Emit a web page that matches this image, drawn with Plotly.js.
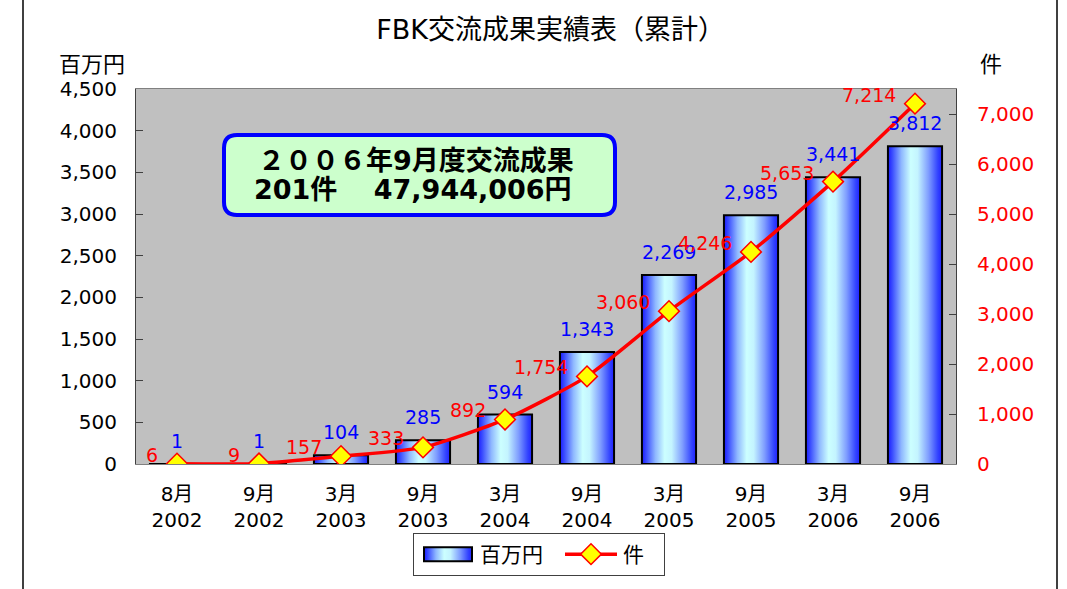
<!DOCTYPE html>
<html>
<head>
<meta charset="utf-8">
<script src="https://cdn.plot.ly/plotly-3.0.1.min.js"></script>
<style>body{margin:0;background:#fff;} #chart{width:1067px;height:589px;}</style>
</head>
<body>
<div id="chart"></div>
<script>
// ---- data ----
const categories = ['8月<br>2002','9月<br>2002','3月<br>2003','9月<br>2003','3月<br>2004','9月<br>2004','3月<br>2005','9月<br>2005','3月<br>2006','9月<br>2006'];
const amountMillionYen = [1, 1, 104, 285, 594, 1343, 2269, 2985, 3441, 3812];
const caseCount = [6, 9, 157, 333, 892, 1754, 3060, 4246, 5653, 7214];
const leftTicks = [0, 500, 1000, 1500, 2000, 2500, 3000, 3500, 4000, 4500];
const rightTicks = [0, 1000, 2000, 3000, 4000, 5000, 6000, 7000];
const chartTitle = 'FBK交流成果実績表（累計）';
const boxLine1 = '２００６年9月度交流成果';
const boxLine2 = '201件　 47,944,006円';

const FONT = '"DejaVu Sans", "Noto Sans CJK JP", sans-serif';
const fmt = v => v.toLocaleString('en-US');

// plot area in pixels (for paper conversions of decorations)
const L = 136, R = 956, T = 89, B = 464;
const px = x => (x - L) / (R - L);
const py = y => (B - y) / (B - T);

const bars = {
  type: 'bar', name: '百万円', x: categories, y: amountMillionYen,
  width: 0.66,
  marker: { color: '#6f8cff', line: { color: '#000000', width: 2 } },
  hoverinfo: 'skip'
};
const line = {
  type: 'scatter', mode: 'lines+markers', name: '件', x: categories, y: caseCount, yaxis: 'y2',
  line: { color: '#ff0000', width: 3.5, shape: 'spline', smoothing: 0.6 },
  marker: { symbol: 'diamond', size: 16, color: '#ffff00', line: { color: '#ff0000', width: 1.5 } },
  hoverinfo: 'skip'
};

const annotations = [];
categories.forEach((c, i) => {
  annotations.push({ x: c, y: amountMillionYen[i], xref: 'x', yref: 'y', text: fmt(amountMillionYen[i]),
    showarrow: false, xanchor: 'center', yanchor: 'bottom', yshift: 10, font: { family: FONT, size: 19, color: '#0000ff' } });
  annotations.push({ x: c, y: caseCount[i], xref: 'x', yref: 'y2', text: fmt(caseCount[i]),
    showarrow: false, xanchor: 'right', yanchor: 'middle', xshift: -17, yshift: 9, font: { family: FONT, size: 19, color: '#ff0000' } });
});
annotations.push({ xref: 'paper', yref: 'paper', x: px(92), y: py(65), xanchor: 'center', yanchor: 'middle', text: '百万円', showarrow: false,
  font: { family: FONT, size: 22, color: '#000' } });
annotations.push({ xref: 'paper', yref: 'paper', x: px(991), y: py(65), xanchor: 'center', yanchor: 'middle', text: '件', showarrow: false,
  font: { family: FONT, size: 22, color: '#000' } });
annotations.push({ xref: 'paper', yref: 'paper', x: px(256), y: py(160), xanchor: 'left', yanchor: 'middle', text: '<b>' + boxLine1 + '</b>', showarrow: false,
  font: { family: FONT, size: 27, color: '#000' } });
annotations.push({ xref: 'paper', yref: 'paper', x: px(252), y: py(189), xanchor: 'left', yanchor: 'middle', text: '<b>' + boxLine2 + '</b>', showarrow: false,
  font: { family: FONT, size: 27, color: '#000' } });

// rounded box path in paper coords
function roundRect(x0, y0, x1, y1, r) {
  const P = (x, y) => px(x) + ',' + py(y);
  return 'M' + P(x0 + r, y0) + ' L' + P(x1 - r, y0) + ' Q' + P(x1, y0) + ' ' + P(x1, y0 + r) +
    ' L' + P(x1, y1 - r) + ' Q' + P(x1, y1) + ' ' + P(x1 - r, y1) +
    ' L' + P(x0 + r, y1) + ' Q' + P(x0, y1) + ' ' + P(x0, y1 - r) +
    ' L' + P(x0, y0 + r) + ' Q' + P(x0, y0) + ' ' + P(x0 + r, y0) + ' Z';
}

const shapes = [
  { type: 'path', xref: 'paper', yref: 'paper', path: roundRect(224, 135, 615, 215, 13),
    fillcolor: '#ccffcc', line: { color: '#0000ff', width: 4 }, layer: 'above' },
  { type: 'line', xref: 'paper', yref: 'paper', x0: px(23), x1: px(23), y0: py(0), y1: py(589), line: { color: '#000', width: 1.5 } },
  { type: 'line', xref: 'paper', yref: 'paper', x0: px(1057), x1: px(1057), y0: py(0), y1: py(589), line: { color: '#000', width: 1.5 } }
];

const layout = {
  width: 1067, height: 589, autosize: false,
  margin: { l: L, r: 1067 - R, t: T, b: 589 - B, pad: 0, autoexpand: false },
  paper_bgcolor: '#ffffff', plot_bgcolor: '#c0c0c0',
  font: { family: FONT, color: '#000' },
  title: { text: chartTitle, x: 0.516, xanchor: 'center', y: 1 - 30 / 589, yanchor: 'middle', automargin: false,
    font: { family: FONT, size: 27, color: '#000' } },
  barmode: 'overlay',
  xaxis: { type: 'category', range: [-0.5, categories.length - 0.5], automargin: false, showgrid: false, showline: true,
    linecolor: '#808080', linewidth: 1, mirror: true,
    ticks: '', tickfont: { family: FONT, size: 20, color: '#000' }, ticklabelstandoff: 12, fixedrange: true },
  yaxis: { automargin: false, range: [0, 4500], tickvals: leftTicks, ticktext: leftTicks.map(fmt), showgrid: false, zeroline: false,
    showline: true, linecolor: '#404040', linewidth: 1, ticks: 'inside', ticklen: 7, tickcolor: '#404040',
    tickfont: { family: FONT, size: 20, color: '#000' }, ticklabelstandoff: 14, fixedrange: true },
  yaxis2: { automargin: false, overlaying: 'y', side: 'right', range: [0, 7507], tickvals: rightTicks, ticktext: rightTicks.map(fmt),
    showgrid: false, zeroline: false, showline: true, linecolor: '#404040', linewidth: 1, ticks: 'inside', ticklen: 7,
    tickcolor: '#404040', tickfont: { family: FONT, size: 20, color: '#ff0000' }, ticklabelstandoff: 16, fixedrange: true },
  showlegend: true,
  legend: { orientation: 'h', x: px(539), xanchor: 'center', y: py(533), yanchor: 'top',
    bgcolor: '#ffffff', bordercolor: '#404040', borderwidth: 1, font: { family: FONT, size: 21, color: '#000' },
    traceorder: 'normal', entrywidth: 80 },
  annotations: annotations,
  shapes: shapes
};

const gd = document.getElementById('chart');
Plotly.newPlot(gd, [bars, line], layout, { displayModeBar: false, staticPlot: true }).then(() => {
  const svg = gd.querySelector('svg.main-svg');
  const NS = 'http://www.w3.org/2000/svg';
  let defs = svg.querySelector('defs');
  if (!defs) { defs = document.createElementNS(NS, 'defs'); svg.insertBefore(defs, svg.firstChild); }
  const g = document.createElementNS(NS, 'linearGradient');
  g.setAttribute('id', 'barGrad'); g.setAttribute('x1', '0'); g.setAttribute('x2', '1'); g.setAttribute('y1', '0'); g.setAttribute('y2', '0');
  [[0, '#1a1aff'], [0.08, '#3a4cff'], [0.25, '#8fb8ff'], [0.42, '#ccffff'], [0.55, '#c4f4ff'], [0.75, '#7f9dff'], [0.92, '#3344ff'], [1, '#2020ff']]
    .forEach(([o, c]) => { const s = document.createElementNS(NS, 'stop'); s.setAttribute('offset', o); s.setAttribute('stop-color', c); g.appendChild(s); });
  defs.appendChild(g);
  gd.querySelectorAll('.barlayer .point path').forEach(p => { p.style.fill = 'url(#barGrad)'; });
  const items = gd.querySelectorAll('.legend .traces');
  items.forEach((t, idx) => {
    const txt = t.querySelector('.legendtext');
    if (idx === 0) {
      t.querySelectorAll('.legendpoints path').forEach(p => {
        p.setAttribute('d', 'M-10,-7H38V7H-10Z');
        p.style.fill = 'url(#barGrad)';
        p.style.stroke = '#000'; p.style.strokeWidth = '2px';
      });
      if (txt) txt.setAttribute('x', '66');
    } else {
      const tr = t.getAttribute('transform') || '';
      const m = tr.match(/translate\(\s*([-\d.]+)[ ,]+([-\d.]+)\s*\)/);
      if (m) t.setAttribute('transform', 'translate(' + (parseFloat(m[1]) + 32) + ',' + m[2] + ')');
      t.querySelectorAll('.legendlines path').forEach(p => p.setAttribute('d', 'M-6,0h52'));
      if (txt) txt.setAttribute('x', '52');
    }
  });
});
</script>
</body>
</html>
